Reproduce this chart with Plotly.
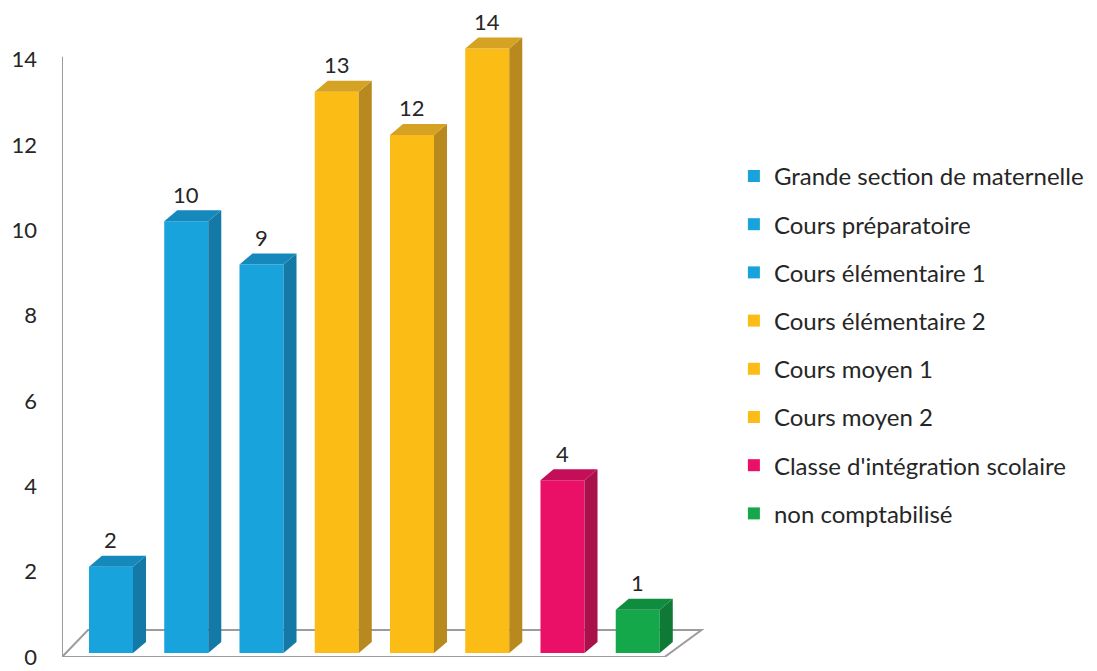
import plotly.graph_objects as go

categories = ["Grande section de maternelle", "Cours préparatoire", "Cours élémentaire 1",
              "Cours élémentaire 2", "Cours moyen 1", "Cours moyen 2",
              "Classe d'intégration scolaire", "non comptabilisé"]
values = [2, 10, 9, 13, 12, 14, 4, 1]
front_colors = ["#19A3DD", "#19A3DD", "#19A3DD", "#FBBC16", "#FBBC16", "#FBBC16", "#EA1068", "#14A84B"]
side_colors = ["#1479A6", "#1479A6", "#1479A6", "#B8891E", "#B8891E", "#B8891E", "#A8114A", "#0E7A36"]
top_colors = ["#1689BC", "#1689BC", "#1689BC", "#D5A224", "#D5A224", "#D5A224", "#C20F57", "#108C3E"]
y_ticks = [0, 2, 4, 6, 8, 10, 12, 14]

FONT = "Lato"
TXT = "#262626"
W = 0.585      # bar width (category units)
DX = 0.173     # depth offset x (category units)
DY = 0.255     # depth offset y (value units)

fig = go.Figure()
for i, (c, v) in enumerate(zip(categories, values)):
    fig.add_trace(go.Bar(
        x=[i], y=[v], name=c, width=W, yaxis="y2",
        marker=dict(color=front_colors[i], line=dict(width=0)),
        legendgroup=f"g{i}", hoverinfo="name+y",
    ))

shapes = []
# floor
x_l, x_r = -0.651, 7.357
shapes.append(dict(type="path", xref="x", yref="y", layer="below",
                   path=f"M {x_l} 0 L {x_r} 0 L {x_r + 0.49} 0.63 L {x_l + 0.346} 0.63 Z",
                   fillcolor="white", line=dict(color="#9C9C9C", width=2)))
# vertical axis line
shapes.append(dict(type="line", xref="x", yref="y", layer="below",
                   x0=x_l, x1=x_l, y0=0, y1=14.07, line=dict(color="#9C9C9C", width=2)))

for i, v in enumerate(values):
    xl, xr = i - W / 2, i + W / 2
    shapes.append(dict(type="path", xref="x", yref="y2",
                       path=f"M {xr} 0 L {xr} {v} L {xr + DX} {v + DY} L {xr + DX} {DY} Z",
                       fillcolor=side_colors[i], line=dict(width=0)))
    shapes.append(dict(type="path", xref="x", yref="y2",
                       path=f"M {xl} {v} L {xr} {v} L {xr + DX} {v + DY} L {xl + DX} {v + DY} Z",
                       fillcolor=top_colors[i], line=dict(width=0)))

annotations = []
for i, v in enumerate(values):
    annotations.append(dict(x=i, y=v, xref="x", yref="y2", text=str(v), showarrow=False,
                            yshift=27, font=dict(family=FONT, size=22, color=TXT)))

fig.update_layout(
    width=1097, height=671,
    margin=dict(l=62, r=383.6, t=17, b=14, autoexpand=False),
    paper_bgcolor="white", plot_bgcolor="white",
    barmode="overlay",
    font=dict(family=FONT, size=22, color=TXT),
    xaxis=dict(range=[-0.651, 8.0], showticklabels=False, showgrid=False, zeroline=False,
               showline=False, ticks="", automargin=False),
    yaxis=dict(range=[0, 15], tickvals=y_ticks, showgrid=False, zeroline=False, showline=False,
               ticks="", ticklabelstandoff=24, automargin=False, ticklabeloverflow="allow",
               tickfont=dict(family=FONT, size=22, color=TXT)),
    yaxis2=dict(range=[-0.093, 14.732], overlaying="y", visible=False),
    shapes=shapes, annotations=annotations,
    showlegend=True,
    legend=dict(xref="container", yref="container", x=0.669, y=0.486, xanchor="left", yanchor="middle",
                font=dict(family=FONT, size=24, color=TXT), tracegroupgap=14,
                bgcolor="rgba(0,0,0,0)", itemwidth=30, maxheight=660),
)

fig.write_html("out.html", config={"displayModeBar": False},
               post_script="document.body.style.margin='0';document.body.style.overflow='hidden';")
